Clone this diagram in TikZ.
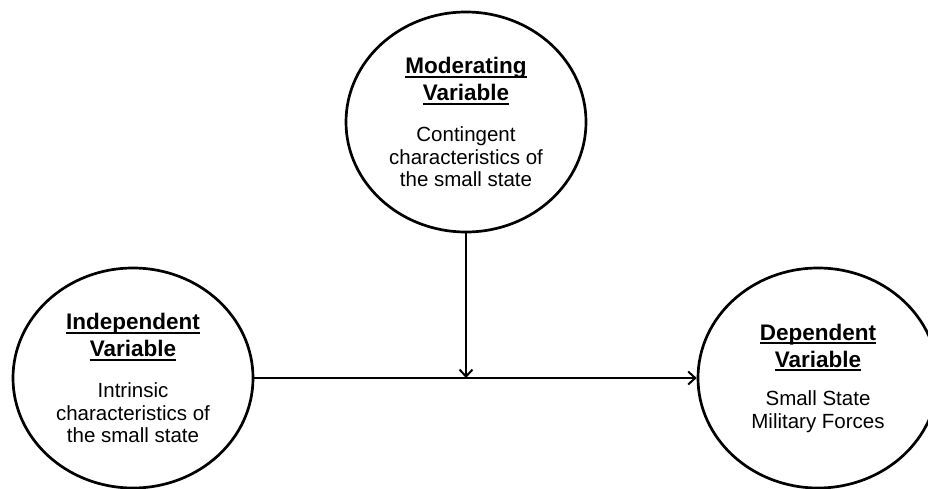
\documentclass[tikz,border=0pt]{standalone}
\usepackage{fontspec}
\setmainfont{Liberation Sans}
\usetikzlibrary{shapes.geometric,arrows.meta}

% heading text: bold with a fixed-position underline
\newcommand\myul[1]{\setbox0\hbox{#1}\rlap{\rule[-4.3pt]{\wd0}{2pt}}\box0}
\newcommand\hd[1]{{\fontsize{22.5}{27}\selectfont\bfseries\myul{#1}}}

\tikzset{
  varnode/.style={ellipse, draw=black, line width=2.7pt, fill=white,
    minimum width=240pt, minimum height=220pt, inner sep=0pt,
    align=center, font=\fontsize{20.5}{22.5}\selectfont},
  link/.style={draw=black, line width=2pt,
    -{Straight Barb[length=7pt,width=13pt,line width=2pt]}}
}

\begin{document}
\begin{tikzpicture}[x=1pt,y=-1pt]
  \useasboundingbox (0,0) rectangle (928,488);
  \clip (0,0) rectangle (928,488);
  \fill[white] (0,0) rectangle (928,488);

  \node[varnode] (mod) at (466,122)
    {\hd{Moderating}\\[4.5pt]\hd{Variable}\\[19pt]
     Contingent\\characteristics of\\the small state};
  \node[varnode] (indep) at (133,378)
    {\hd{Independent}\\[4.5pt]\hd{Variable}\\[19pt]
     Intrinsic\\characteristics of\\the small state};
  \node[varnode] (dep) at (818,378)
    {\hd{Dependent}\\[4.5pt]\hd{Variable}\\[16pt]
     Small State\\Military Forces};

  \coordinate (meet) at (mod.south |- indep.east);
  \draw[link] (indep.east) -- (dep.west);
  \draw[link] (mod.south) -- (meet);
\end{tikzpicture}
\end{document}
